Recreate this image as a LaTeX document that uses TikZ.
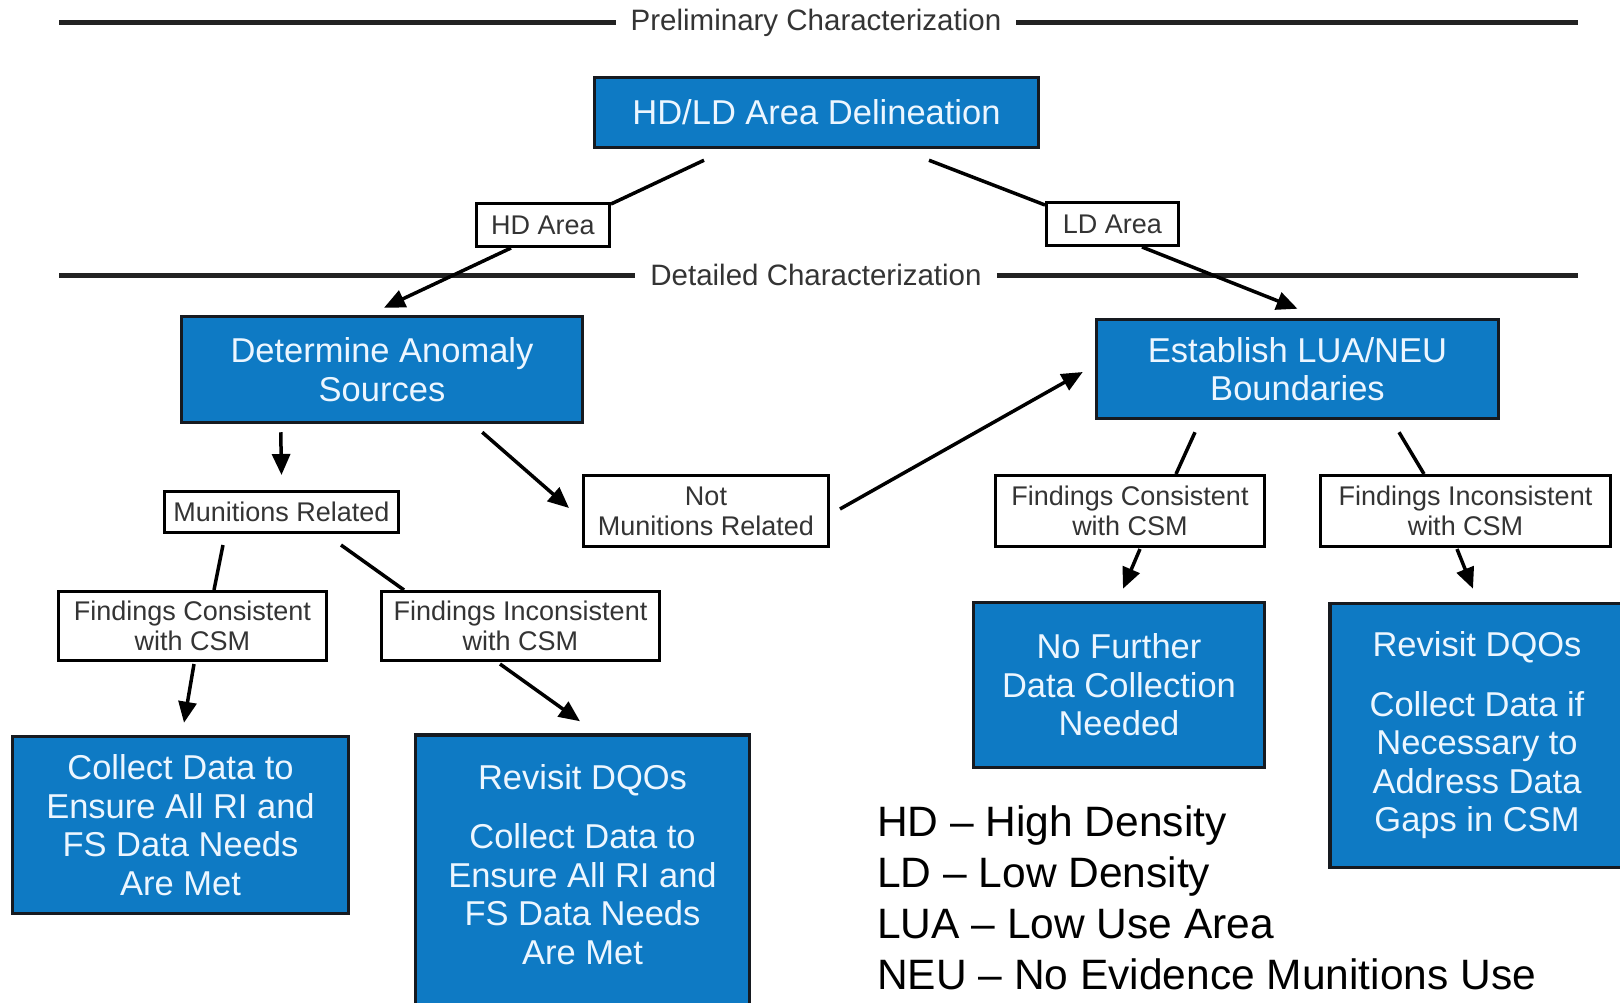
\documentclass[tikz,border=0pt]{standalone}
\usepackage{fontspec}
\setmainfont{Liberation Sans}
\usetikzlibrary{arrows.meta,calc}

\definecolor{boxblue}{RGB}{14,122,196}
\definecolor{boxedge}{RGB}{22,26,32}
\definecolor{boxtext}{RGB}{236,246,255}
\definecolor{labelgray}{RGB}{52,52,52}
\definecolor{dividergray}{RGB}{34,34,34}

\tikzset{
  bluebox/.style={draw=boxedge, line width=3.5pt, fill=boxblue, text=boxtext,
    font=\fontsize{34.5}{38.5}\selectfont, align=center, inner sep=0pt},
  bluetext/.style={text=boxtext, font=\fontsize{34.5}{38.5}\selectfont, align=center, inner sep=0pt},
  tagbox/.style={draw=black, line width=3pt, fill=white, text=labelgray,
    font=\fontsize{27}{30}\selectfont, align=center, inner sep=0pt},
  link/.style={line width=3.5pt, draw=black},
  arrow/.style={link, -{Triangle[length=21pt,width=18pt]}},
  divider/.style={line width=5pt, draw=dividergray},
  heading/.style={fill=white, text=labelgray, font=\fontsize{29.5}{32}\selectfont,
    inner xsep=15pt, inner ysep=2pt},
  legend/.style={anchor=base west, text=black, font=\fontsize{42.5}{50}\selectfont, inner sep=0pt}
}

\begin{document}
\begin{tikzpicture}[x=1pt, y=-1pt]
  \clip (0,0) rectangle (1620,1003);
  \fill[white] (0,0) rectangle (1620,1003);

  % phase dividers
  \coordinate (pl) at (59,23);
  \coordinate (pr) at (1578,23);
  \coordinate (dl) at (59,275);
  \coordinate (dr) at (1578,275);
  \node[heading] (prelim) at (816,23) {Preliminary Characterization};
  \node[heading] (detail) at (816,275) {Detailed Characterization};
  \draw[divider] (pl) -- (prelim.west);
  \draw[divider] (prelim.east) -- (pr);
  \draw[divider] (dl) -- (detail.west);
  \draw[divider] (detail.east) -- (dr);

  % process boxes
  \node[bluebox, minimum width=444, minimum height=70] (hdld) at (816.5,112.5) {HD/LD Area Delineation};
  \node[bluebox, minimum width=401, minimum height=106] (det) at (382,369.5) {Determine Anomaly\\Sources};
  \node[bluebox, minimum width=402, minimum height=99] (est) at (1297.5,369) {Establish LUA/NEU\\Boundaries};
  \node[bluebox, minimum width=336, minimum height=177] (colL) at (180.5,825)
    {Collect Data to\\Ensure All RI and\\FS Data Needs\\Are Met};
  % this box runs on below the lower edge of the page
  \node[bluebox, minimum width=334, minimum height=300] (revL) at (582.5,885) {};
  \node[bluetext] (revLtext) at ($(revL.north)+(0,131)$)
    {Revisit DQOs\\[21pt]Collect Data to\\Ensure All RI and\\FS Data Needs\\Are Met};
  \node[bluebox, minimum width=291, minimum height=165] (nofur) at (1119,685)
    {No Further\\Data Collection\\Needed};
  \node[bluebox, minimum width=294, minimum height=264] (revR) at (1477,735.5)
    {Revisit DQOs\\[21pt]Collect Data if\\Necessary to\\Address Data\\Gaps in CSM};

  % decision labels
  \node[tagbox, minimum width=133, minimum height=43] (hd) at (543,225) {HD Area};
  \node[tagbox, minimum width=132, minimum height=43] (ld) at (1112.5,224) {LD Area};
  \node[tagbox, minimum width=234, minimum height=41] (mun) at (281.5,512) {Munitions Related};
  \node[tagbox, minimum width=245, minimum height=71] (notmun) at (706,511) {Not\\Munitions Related};
  \node[tagbox, minimum width=269, minimum height=71] (fcR) at (1130,511) {Findings Consistent\\with CSM};
  \node[tagbox, minimum width=290, minimum height=71] (fiR) at (1465.5,511) {Findings Inconsistent\\with CSM};
  \node[tagbox, minimum width=268, minimum height=69] (fcL) at (192.5,626) {Findings Consistent\\with CSM};
  \node[tagbox, minimum width=278, minimum height=69] (fiL) at (520.5,626) {Findings Inconsistent\\with CSM};

  % connectors
  \draw[link]  ($(hdld.south)+(-112.5,11)$) -- ($(hd.north east)+(0,2)$);
  \draw[arrow] ($(hd.south)+(-32,0)$) -- ($(det.north)+(2,-7)$);
  \draw[link]  ($(hdld.south)+(112.5,11)$) -- ($(ld.north west)+(0,4)$);
  \draw[arrow] ($(ld.south)+(29.5,0)$) -- ($(est.north)+(0,-9)$);

  \draw[arrow] ($(det.south west)+(101,8)$) -- ($(mun.north)+(0,-15)$);
  \draw[arrow] ($(det.south east)+(-102,8)$) -- ($(notmun.west)+(-13,-3)$);
  \draw[arrow] ($(notmun.east)+(10,-2)$) -- ($(est.west)+(-12,3)$);

  \draw[link]  ($(est.south)+(-102.5,12)$) -- ($(fcR.north)+(46,0)$);
  \draw[link]  ($(est.south)+(101.5,12)$) -- ($(fiR.north)+(-41.5,0)$);
  \draw[arrow] ($(fcR.south)+(10,1)$) -- ($(nofur.north)+(4,-12)$);
  \draw[arrow] ($(fiR.south)+(-8.5,1)$) -- ($(revR.north)+(-4,-13)$);

  \draw[link]  ($(mun.south)+(-58.5,11)$) -- ($(fcL.north)+(21.5,0)$);
  \draw[link]  ($(mun.south)+(59.5,11)$) -- ($(fiL.north west)+(24,0)$);
  \draw[arrow] ($(fcL.south)+(1.5,2)$) -- ($(colL.north)+(3.5,-12)$);
  \draw[arrow] ($(fiL.south)+(-20.5,2)$) -- ($(revL.north)+(-2.5,-12)$);

  % abbreviations
  \node[legend] (k1) at (877,836) {HD – High Density};
  \node[legend] (k2) at (877,887) {LD – Low Density};
  \node[legend] (k3) at (877,938) {LUA – Low Use Area};
  \node[legend] (k4) at (877,989) {NEU – No Evidence Munitions Use};
\end{tikzpicture}
\end{document}
